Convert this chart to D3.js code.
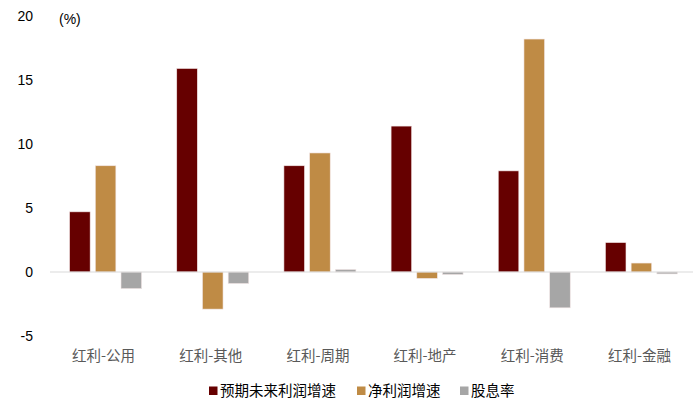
<!DOCTYPE html>
<html>
<head>
<meta charset="utf-8">
<script src="https://cdn.jsdelivr.net/npm/d3@7"></script>
<style>
  body { margin: 0; background: #fff; }
  text { font-family: "Liberation Sans", "Noto Sans CJK SC", sans-serif; }
  .cjk { font-family: "Noto Sans CJK SC", sans-serif; }
</style>
</head>
<body>
<div id="chart"></div>
<script>
const categories = ["红利-公用", "红利-其他", "红利-周期", "红利-地产", "红利-消费", "红利-金融"];
const seriesNames = ["预期未来利润增速", "净利润增速", "股息率"];
const expectedGrowth = [4.7, 15.9, 8.3, 11.4, 7.9, 2.3];
const profitGrowth = [8.3, -2.9, 9.3, -0.5, 18.2, 0.7];
const dividendYield = [-1.3, -0.9, 0.2, -0.2, -2.8, -0.15];
const yTicks = [-5, 0, 5, 10, 15, 20];

const colors = ["#660000", "#BF8B45", "#A6A6A6"];
const series = [expectedGrowth, profitGrowth, dividendYield];

const width = 700, height = 410;
const svg = d3.select("#chart").append("svg")
    .attr("width", width)
    .attr("height", height);

const x = d3.scaleBand()
    .domain(categories)
    .range([50, 693]);

const xInner = d3.scaleBand()
    .domain(seriesNames)
    .range([x.bandwidth() / 2 - 34, x.bandwidth() / 2 + 38])
    .paddingInner(0.2);

const y = d3.scaleLinear()
    .domain([-5, 20])
    .range([336, 16]);

// y tick labels
svg.append("g")
    .selectAll("text")
    .data(yTicks)
    .join("text")
    .attr("x", 33)
    .attr("y", d => y(d))
    .attr("dy", "0.35em")
    .attr("text-anchor", "end")
    .attr("font-size", 14)
    .attr("fill", "#000")
    .text(d => d);

svg.append("text")
    .attr("x", 59)
    .attr("y", 19)
    .attr("dy", "0.35em")
    .attr("font-size", 14)
    .attr("fill", "#000")
    .text("(%)");

// bars
const groups = svg.append("g")
    .selectAll("g")
    .data(categories)
    .join("g")
    .attr("transform", d => `translate(${x(d)},0)`);

groups.selectAll("rect")
    .data((c, i) => series.map((s, j) => ({ name: seriesNames[j], value: s[i], color: colors[j] })))
    .join("rect")
    .attr("x", d => xInner(d.name))
    .attr("width", xInner.bandwidth())
    .attr("y", d => y(Math.max(0, d.value)))
    .attr("height", d => Math.abs(y(d.value) - y(0)))
    .attr("fill", d => d.color)
    .attr("stroke", "#f2e6e6")
    .attr("stroke-width", 0.6);

// zero line
svg.append("line")
    .attr("x1", 50)
    .attr("x2", 693)
    .attr("y1", y(0))
    .attr("y2", y(0))
    .attr("stroke", "#D9D9D9")
    .attr("stroke-width", 1.2);

// category labels
svg.append("g")
    .selectAll("text")
    .data(categories)
    .join("text")
    .attr("class", "cjk")
    .attr("x", d => x(d) + x.bandwidth() / 2)
    .attr("y", 356)
    .attr("dy", "0.35em")
    .attr("text-anchor", "middle")
    .attr("font-size", 14.5)
    .attr("fill", "#595959")
    .text(d => d);

// legend
const legendX = [209, 357, 460];
const legend = svg.append("g")
    .selectAll("g")
    .data(seriesNames)
    .join("g")
    .attr("transform", (d, i) => `translate(${legendX[i]},391)`);

legend.append("rect")
    .attr("x", 0)
    .attr("y", -4.5)
    .attr("width", 8.5)
    .attr("height", 8.5)
    .attr("fill", (d, i) => colors[i]);

legend.append("text")
    .attr("class", "cjk")
    .attr("x", 11)
    .attr("y", 0)
    .attr("dy", "0.35em")
    .attr("font-size", 14.5)
    .attr("fill", "#000")
    .text(d => d);
</script>
</body>
</html>
